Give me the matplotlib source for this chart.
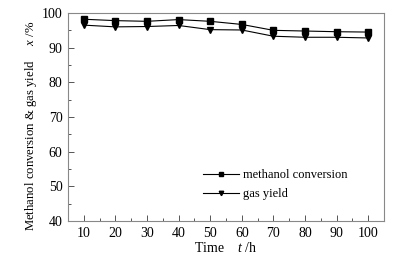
import matplotlib
matplotlib.use("Agg")
import matplotlib.pyplot as plt
from matplotlib.ticker import MultipleLocator

plt.rcParams['font.family'] = 'Liberation Serif'
plt.rcParams['mathtext.fontset'] = 'custom'
plt.rcParams['mathtext.it'] = 'Liberation Serif:italic'
plt.rcParams['mathtext.rm'] = 'Liberation Serif'

time_h = [10, 20, 30, 40, 50, 60, 70, 80, 90, 100]
methanol_conversion = [98.2, 97.8, 97.6, 98.1, 97.6, 96.7, 95.0, 94.8, 94.6, 94.5]
gas_yield = [96.5, 96.0, 96.1, 96.4, 95.2, 95.1, 93.3, 93.0, 93.0, 92.8]

W, H = 399, 258
fig = plt.figure(figsize=(W/100, H/100), dpi=100)
ax = fig.add_axes([68/W, 1-221/H, (384-68)/W, (221-13)/H])

ax.plot(time_h, methanol_conversion, color='black', lw=0.8, marker='s', ms=4,
        label='methanol conversion')
ax.plot(time_h, gas_yield, color='black', lw=0.8, marker='v', ms=4,
        label='gas yield')

ax.set_xlim(5, 105)
ax.set_ylim(40, 100)
ax.xaxis.set_major_locator(MultipleLocator(10))
ax.xaxis.set_minor_locator(MultipleLocator(5))
ax.yaxis.set_major_locator(MultipleLocator(10))
ax.yaxis.set_minor_locator(MultipleLocator(5))
ax.tick_params(which='both', direction='in', top=False, right=False,
               color='#555555', labelsize=10)
ax.tick_params(which='major', length=4, width=0.7, pad=4)
ax.tick_params(which='minor', length=2, width=0.7)
for s in ax.spines.values():
    s.set_color('#888888')
    s.set_linewidth(0.8)

fig.text(226/W, 1-248/H, r'Time    $t$ /h', fontsize=10, ha='center', va='center')
fig.text(31/W, 1-125.5/H, r'Methanol conversion & gas yield     $x$ /%',
         fontsize=9.2, rotation=90, ha='center', va='center')

ax.legend(loc='center left', bbox_to_anchor=(203/W, 1-184.5/H),
          bbox_transform=fig.transFigure, frameon=False, borderpad=0,
          borderaxespad=0, fontsize=9, handlelength=2.9, handletextpad=0.32,
          labelspacing=0.55, markerscale=0.8)

fig.savefig('out.png', dpi=100)
